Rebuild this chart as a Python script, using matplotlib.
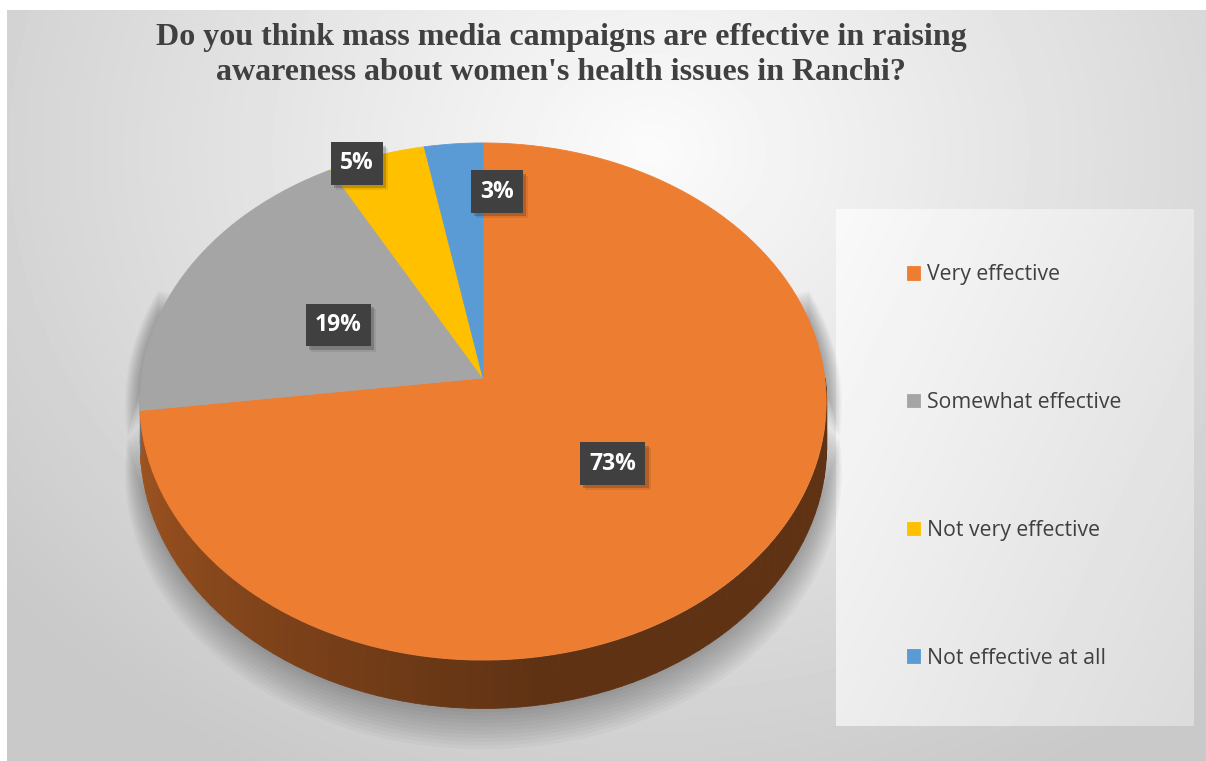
import numpy as np
import matplotlib.pyplot as plt
import matplotlib.patheffects as pe
from matplotlib.colors import to_rgb
from matplotlib.path import Path
from matplotlib.transforms import Transform, Affine2D

# survey answers
labels = ['Very effective', 'Somewhat effective', 'Not very effective', 'Not effective at all']
shares = [73, 19, 5, 3]
colors = ['#ED7D31', '#A5A5A5', '#FFC000', '#5B9BD5']
# where the % boxes sit: fraction of radius, and a nudge off the mid angle (deg)
label_r = [0.49, 0.48, 0.99, 0.78]
label_nudge = [0, 1, 4, -8.6]

title = ("Do you think mass media campaigns are effective in raising\n"
         "awareness about women's health issues in Ranchi?")

W, H = 1206, 761
# pie in pixels: apex, half width, half height, perspective, thickness
CX, CY, RA, RB, K, DEPTH = 483, 378, 341.8, 256.4, 0.0909, 43.6


class Tilt(Transform):
    """unit disk -> pixels of a tilted pie with a little perspective.
    polar=True takes (angle deg, depth fraction) instead, for the rim/side."""
    input_dims = output_dims = 2
    has_inverse = False

    def __init__(self, polar=False, thick=0.0, grow=1.0):
        super().__init__()
        self.polar = polar
        self.thick = thick
        self.grow = grow

    def transform_non_affine(self, values):
        v = np.asarray(values, dtype=float).reshape(-1, 2)
        if self.polar:
            t = np.radians(v[:, 0])
            s = v[:, 1]
            x, y = self.grow * np.cos(t), self.grow * np.sin(t)
        else:
            x, y = v[:, 0], v[:, 1]
            s = 0.0
        w = 1 + K * y
        return np.column_stack([CX + RA * x / w, CY - RB * y / w + self.thick * s / w])

    def transform_path_non_affine(self, path):
        if self.polar:
            return Path(self.transform_non_affine(path.vertices), path.codes)
        # flatten the bezier arcs so the perspective bends them properly
        polys = path.to_polygons(transform=Affine2D().scale(500), closed_only=False)
        verts = np.concatenate(polys) / 500
        codes = np.concatenate([[Path.MOVETO] + [Path.LINETO] * (len(p) - 1) for p in polys])
        return Path(self.transform_non_affine(verts), codes)


fig = plt.figure(figsize=(W / 100, H / 100), dpi=100)
ax = fig.add_axes([0, 0, 1, 1])

# chart background, light in the middle, grey to the edges
yy, xx = np.mgrid[10:H, 7:W]
d = np.clip(np.hypot((xx - 650) / 760, (yy - 150) / 640), 0, 1.1)
bg = (251 - 46 * d) / 255
ax.imshow(bg, cmap='gray', vmin=0, vmax=1, extent=(7, W, H, 10), aspect='auto', zorder=0)

# legend panel
ly, lx = np.mgrid[0:517, 0:358]
lg = (249 - 30 * (lx / 358 * 0.6 + ly / 517 * 0.4)) / 255
ax.imshow(lg, cmap='gray', vmin=0, vmax=1, extent=(836, 1194, 726, 209), aspect='auto', zorder=1)

tilt = Tilt()
side = Tilt(polar=True, thick=DEPTH)

# soft shadow under the pie
tt = np.linspace(-200, 20, 160)
for j in range(12):
    sh = Tilt(polar=True, thick=DEPTH + 2.2 * j, grow=1 + 0.004 * j)
    ax.fill_between(tt, 0, 1, transform=sh + ax.transData, color='k', alpha=0.028, lw=0, zorder=2)

# slice edges, clockwise from 12 o'clock
edges = 90 - 3.6 * np.concatenate([[0], np.cumsum(shares)])

# front wall, darker towards the right
for i in range(len(shares)):
    hi, lo = edges[i], edges[i + 1]
    for off in (0, 360, -360):
        a, b = max(lo + off, -180), min(hi + off, 0)
        if b <= a:
            continue
        st = np.linspace(a, b, max(2, int((b - a) / 2)) + 1)
        for t0, t1 in zip(st[:-1], st[1:]):
            u = ((t0 + t1) / 2 + 180) / 180
            f = 0.40 + 0.30 * max(0, 1 - u / 0.55)
            c = np.array(to_rgb(colors[i])) * f
            ax.fill_between([t0, t1], 0, 1, transform=side + ax.transData,
                            color=c, lw=0.6, zorder=3)

# top of the pie
wedges, _ = ax.pie(shares, colors=colors, startangle=90, counterclock=False,
                   wedgeprops=dict(transform=tilt + ax.transData, linewidth=0.6))
for w in wedges:
    w.set_edgecolor(w.get_facecolor())
    w.set_zorder(4)

# % labels in dark boxes
mids = (edges[:-1] + edges[1:]) / 2
for i, s in enumerate(shares):
    ang = np.radians(mids[i] + label_nudge[i])
    t = ax.text(label_r[i] * np.cos(ang), label_r[i] * np.sin(ang), f'{s}%',
                transform=tilt + ax.transData, ha='center', va='center',
                color='white', fontsize=16.5, fontweight='bold', family='Open Sans',
                zorder=6,
                bbox=dict(boxstyle='square,pad=0.4', fc='#404040', ec='none', lw=0))
    t.get_bbox_patch().set_path_effects([
        pe.SimplePatchShadow(offset=(4, -4), shadow_rgbFace='k', alpha=0.08),
        pe.SimplePatchShadow(offset=(2.5, -2.5), shadow_rgbFace='k', alpha=0.18),
        pe.Normal()])

ax.set_aspect('auto')
ax.set_xlim(0, W)
ax.set_ylim(H, 0)
ax.axis('off')

fig.text(561 / W, 1 - 55 / H, title, ha='center', va='center', ma='center',
         family='Liberation Serif', fontweight='bold', fontsize=23, color='#404040',
         linespacing=1.24)

fig.legend(wedges, labels, loc='center left', bbox_to_anchor=(907 / W, 1 - 466.5 / H),
           frameon=False, prop=dict(family='Open Sans', size=15.3), labelcolor='#404040',
           handlelength=0.62, handleheight=0.62, handletextpad=0.33,
           labelspacing=5.03, borderpad=0, borderaxespad=0)

fig.savefig('out.png', dpi=100, facecolor='white')
